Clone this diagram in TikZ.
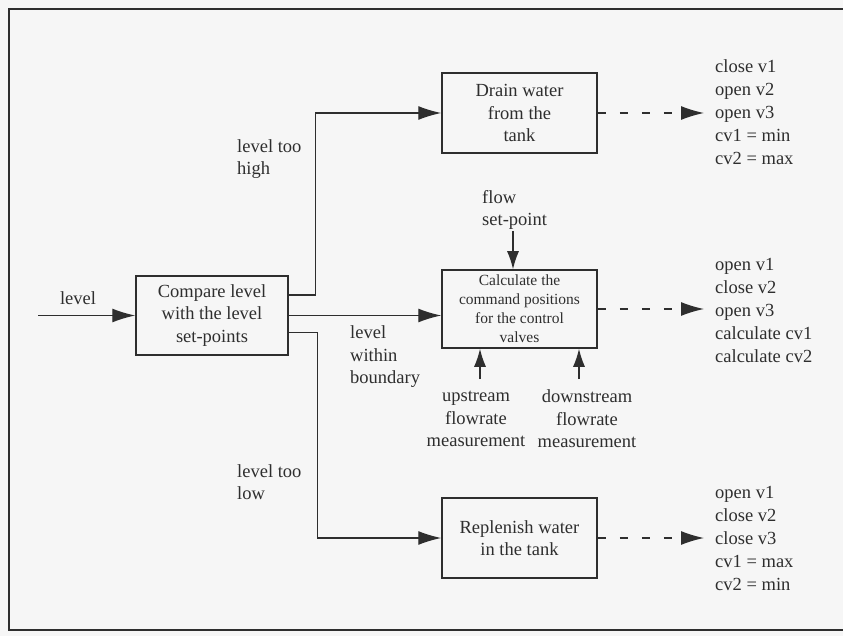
\documentclass[tikz,border=0pt]{standalone}
\usepackage{fontspec}
\setmainfont{Liberation Serif}
\usetikzlibrary{arrows.meta}
\definecolor{ink}{gray}{0.18}
\definecolor{paper}{gray}{0.965}
\begin{document}
\begin{tikzpicture}[x=1pt,y=-1pt,
  every node/.style={text=ink, inner sep=0pt},
  lbl/.style={font=\fontsize{18.5}{22.5}\selectfont, align=left},
  outs/.style={font=\fontsize{18.5}{23}\selectfont, align=left, anchor=west},
  blk/.style={draw=ink, line width=1.5pt, align=center, minimum width=155pt,
              font=\fontsize{18.5}{22.5}\selectfont},
  flow/.style={draw=ink, line width=1.3pt, -{Latex[length=23pt,width=14pt]}},
  feed/.style={draw=ink, line width=1.3pt, -{Latex[length=18pt,width=12pt]}},
  cmd/.style={flow, dash pattern=on 8pt off 14pt}
]
\useasboundingbox (0,0) rectangle (843,636);
\fill[paper] (0,0) rectangle (843,636);
% outer frame
\draw[ink, line width=1.2pt] (843,9) -- (9,9) -- (9,630) -- (843,630);

% blocks
\node[blk, minimum width=152pt, minimum height=79pt] (cmp) at (212,315.5)
  {Compare level\\with the level\\set-points};
\node[blk, minimum height=80pt] (drain) at (519.5,113)
  {Drain water\\from the\\tank};
\node[blk, minimum height=78pt, font=\fontsize{15.5}{19}\selectfont] (calc) at (519.5,309)
  {Calculate the\\command positions\\for the control\\valves};
\node[blk, minimum height=80pt] (fill) at (519.5,538)
  {Replenish water\\in the tank};

% input level
\coordinate (src) at (38,315.5);
\node[lbl] (lvl) at (78,298) {level};
\draw[flow] (src) -- (cmp.west);

% branches out of the comparison
\draw[flow] ([yshift=20.5pt]cmp.east) -- ++(27,0) |- (drain.west);
\draw[flow] (cmp.east) -- (cmp.east -| calc.west);
\draw[flow] ([yshift=-17pt]cmp.east) -- ++(29,0) |- (fill.west);

\node[lbl, anchor=west] (hi) at (237,159) {level too\\high};
\node[lbl, anchor=west] (within) at (350,357) {level\\within\\boundary};
\node[lbl, anchor=west] (lo) at (237,482) {level too\\low};

% inputs of the calculation block
\node[lbl, anchor=west] (sp) at (482,210) {flow\\set-point};
\coordinate (spend) at (513,231);
\draw[feed] (spend) -- (spend |- calc.north);

\node[lbl, align=center] (up) at (476,419) {upstream\\flowrate\\measurement};
\coordinate (upend) at (480,379);
\draw[feed] (upend) -- (upend |- calc.south);

\node[lbl, align=center] (down) at (587,419) {downstream\\flowrate\\measurement};
\coordinate (downend) at (579,379);
\draw[feed] (downend) -- (downend |- calc.south);

% valve commands
\node[outs] (o1) at (715,112) {close v1\\open v2\\open v3\\cv1 = min\\cv2 = max};
\node[outs] (o2) at (715,310) {open v1\\close v2\\open v3\\calculate cv1\\calculate cv2};
\node[outs] (o3) at (715,538) {open v1\\close v2\\close v3\\cv1 = max\\cv2 = min};

\draw[cmd, shorten >=11pt] (drain.east) -- (drain.east -| o1.west);
\draw[cmd, shorten >=11pt] (calc.east) -- (calc.east -| o2.west);
\draw[cmd, shorten >=11pt] (fill.east) -- (fill.east -| o3.west);
\end{tikzpicture}
\end{document}
